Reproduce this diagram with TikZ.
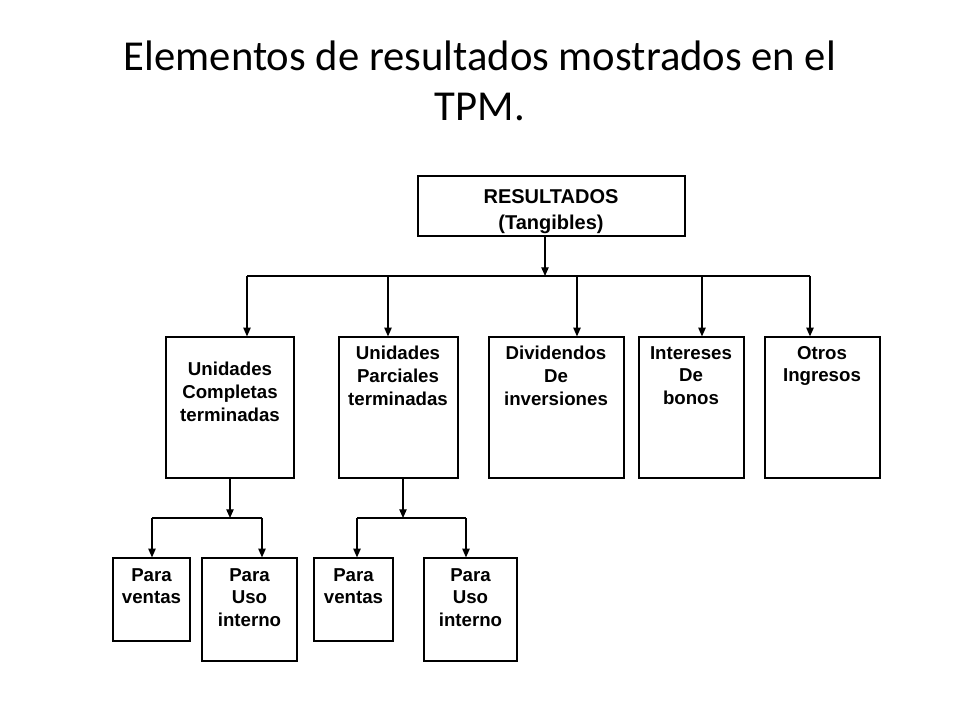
\documentclass[tikz,border=0pt]{standalone}
\usepackage{fontspec}
\setmainfont{Liberation Sans}
\newfontfamily\titlefont{Carlito}
\usetikzlibrary{fit,arrows.meta}
\tikzset{
  box/.style={draw, line width=0.9pt, inner sep=0pt},
  boxtxt/.style={align=center, anchor=north, inner sep=0pt,
    font=\fontsize{14}{17}\selectfont\bfseries},
  conn/.style={line width=0.9pt},
  arr/.style={conn, -{Triangle[length=6.5pt,width=5.5pt]}},
}
\begin{document}
\begin{tikzpicture}[x=0.75pt,y=-0.75pt]
    \useasboundingbox (0,0) rectangle (960,720);
    % title
    \node[align=center, font=\titlefont\fontsize{32}{37.5}\selectfont] (title) at (480,81)
      {Elementos de resultados mostrados en el\\TPM.};
    % top box
    \node[box, fit={(418,176) (685,236)}] (res) {};
    \node[boxtxt, font=\fontsize{15}{19.5}\selectfont\bfseries] (resT) at (551,189)
      {RESULTADOS\\(Tangibles)};
    % second row
    \node[box, fit={(166,337) (294,478)}] (uc) {};
    \node[box, fit={(339,337) (458,478)}] (up) {};
    \node[box, fit={(489,337) (624,478)}] (di) {};
    \node[box, fit={(639,337) (744,478)}] (ib) {};
    \node[box, fit={(765,337) (880,478)}] (oi) {};
    \node[boxtxt] (ucT) at (230,362) {Unidades\\Completas\\terminadas};
    \node[boxtxt] (upT) at (398,346) {Unidades\\Parciales\\terminadas};
    \node[boxtxt] (diT) at (556,346) {Dividendos\\De\\inversiones};
    \node[boxtxt] (ibT) at (691,346) {Intereses\\De\\bonos};
    \node[boxtxt] (oiT) at (822,346) {Otros\\Ingresos};
    % third row
    \node[box, fit={(113,558) (190,641)}] (pv1) {};
    \node[box, fit={(202,558) (297,661)}] (pu1) {};
    \node[box, fit={(314,558) (393,641)}] (pv2) {};
    \node[box, fit={(424,558) (517,661)}] (pu2) {};
    \node[boxtxt] (pv1T) at (151.5,568) {Para\\ventas};
    \node[boxtxt] (pu1T) at (249.5,568) {Para\\Uso\\interno};
    \node[boxtxt] (pv2T) at (353.5,568) {Para\\ventas};
    \node[boxtxt] (pu2T) at (470.5,568) {Para\\Uso\\interno};
    % connectors
    \coordinate (bus) at (545,276);
    \draw[arr] (res.south -| bus) -- (bus);
    \draw[conn] (247,276) coordinate (dL) -- (810,276) coordinate (dR);
    \foreach \x/\n in {247/uc,388/up,577/di,702/ib,810/oi} {
      \coordinate (d\n) at (\x,276);
      \draw[arr] (d\n) -- (d\n |- \n.north);
    }
    \coordinate (j1) at (230,518);
    \coordinate (j2) at (403,518);
    \draw[arr] (j1 |- uc.south) -- (j1);
    \draw[arr] (j2 |- up.south) -- (j2);
    \draw[conn] (152,518) coordinate (k1) -- (262,518) coordinate (k2);
    \draw[conn] (357,518) coordinate (k3) -- (466,518) coordinate (k4);
    \draw[arr] (k1) -- (k1 |- pv1.north);
    \draw[arr] (k2) -- (k2 |- pu1.north);
    \draw[arr] (k3) -- (k3 |- pv2.north);
    \draw[arr] (k4) -- (k4 |- pu2.north);
\end{tikzpicture}
\end{document}
